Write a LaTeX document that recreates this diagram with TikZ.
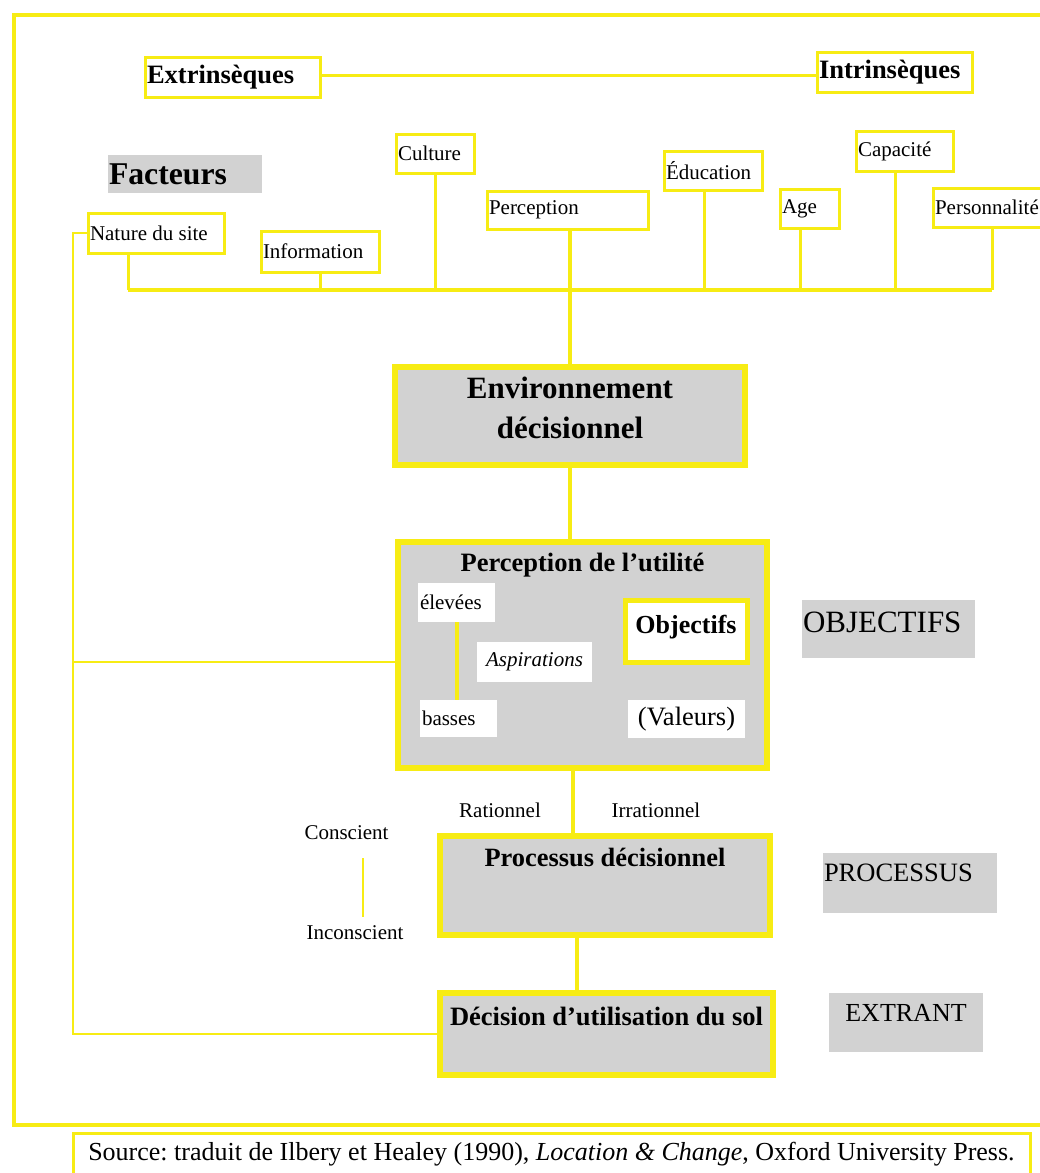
\documentclass[tikz,border=0pt]{standalone}
\usepackage{fontspec}
\setmainfont{Liberation Serif}
\definecolor{yel}{RGB}{247,236,20}
\definecolor{shade}{RGB}{210,210,210}
\newcommand{\setfs}[1]{\fontsize{#1}{#1}\selectfont\frenchspacing}
\tikzset{
  every node/.style={inner sep=0pt, outer sep=0pt},
  factor/.style={draw=yel, line width=3pt, fill=white, inner xsep=2pt, align=flush left, font=\setfs{21}},
  head/.style={draw=yel, line width=3pt, fill=white, inner xsep=2pt, align=flush left, font=\bfseries\setfs{26.5}},
  mainbox/.style={draw=yel, line width=6pt, fill=shade},
  graytag/.style={fill=shade, inner xsep=1pt, align=flush left},
  whitebox/.style={fill=white, inner xsep=2pt, font=\setfs{21}},
  plain/.style={font=\setfs{21}},
  bus/.style={draw=yel, line width=4.5pt},
  drop/.style={draw=yel, line width=3pt},
  trunk/.style={draw=yel, line width=4pt},
  side/.style={draw=yel, line width=2.5pt},
}
\begin{document}
\begin{tikzpicture}[x=1pt, y=-1pt]
\useasboundingbox (0,0) rectangle (1040,1173);

% outer frame
\draw[yel, line width=4pt] (14,15) rectangle (1050,1125);

% extrinsic / intrinsic headings
\node[head, text width=171pt, minimum height=40pt] (ext) at (232.5,77) {Extrinsèques};
\node[head, text width=151pt, minimum height=40pt] (int) at (894.5,72) {Intrinsèques};
\draw[drop] ([yshift=2pt]ext.east) -- ([yshift=-3pt]int.west);

\node[graytag, text width=152pt, minimum height=38pt, font=\bfseries\setfs{31.7}] (fact) at (185,174) {Facteurs};

% factors
\node[factor, text width=132pt, minimum height=40pt] (nature) at (156,233) {Nature du site};
\node[factor, text width=114pt, minimum height=41pt] (info) at (320,251.5) {Information};
\node[factor, text width=74pt, minimum height=39pt] (culture) at (435,153.5) {Culture};
\node[factor, text width=157pt, minimum height=38pt] (percep) at (567.5,210) {Perception};
\node[factor, text width=94pt, minimum height=39pt] (educ) at (713,170.5) {Éducation};
\node[factor, text width=55pt, minimum height=39pt] (age) at (809.5,208.5) {Age};
\node[factor, text width=93pt, minimum height=40pt] (capa) at (904.5,151) {Capacité};
\node[factor, text width=108pt, minimum height=39pt] (perso) at (989,207.5) {Personnalité};

% main chain
\node[mainbox, minimum width=350pt, minimum height=98pt] (env) at (570,416) {};
\node[align=center, font=\bfseries\fontsize{31}{40}\selectfont] (envt) at (570,408) {Environnement\\décisionnel};

\node[mainbox, minimum width=369pt, minimum height=226pt] (putil) at (582.5,655) {};
\node[font=\bfseries\setfs{26.5}] (putilt) at (582.5,565) {Perception de l’utilité};
\node[whitebox, text width=73pt, minimum height=39pt, align=flush left] (elev) at (456.5,602.5) {élevées};
\node[whitebox, text width=73pt, minimum height=37pt, align=flush left] (bass) at (458.5,718.5) {basses};
\node[whitebox, minimum width=115pt, minimum height=40pt, font=\itshape\setfs{21}] (asp) at (534.5,662) {Aspirations};
\node[draw=yel, line width=5pt, fill=white, minimum width=122pt, text height=33.5pt, text depth=28.5pt, font=\bfseries\setfs{26}] (obj) at (686,631) {Objectifs};
\node[whitebox, minimum width=117pt, minimum height=38pt, font=\setfs{26.5}] (val) at (686.5,719) {(Valeurs)};
\draw[trunk] (elev.south) -- (elev.south |- bass.north);

\node[mainbox, minimum width=330pt, text height=30pt, text depth=69pt, font=\bfseries\setfs{26.4}] (proc) at (605,885.5) {Processus décisionnel};
\node[mainbox, minimum width=333pt, text height=32pt, text depth=50pt, font=\bfseries\setfs{26.5}] (dec) at (606.5,1034) {Décision d’utilisation du sol};

% side tags
\node[graytag, text width=171pt, text height=32pt, text depth=26pt, font=\setfs{31}] (tobj) at (888.5,629) {OBJECTIFS};
\node[graytag, text width=172pt, text height=28pt, text depth=32pt, font=\setfs{26.5}] (tproc) at (910,883) {PROCESSUS};
\node[fill=shade, minimum width=154pt, text height=28pt, text depth=31pt, font=\setfs{26}] (text) at (906,1022.5) {EXTRANT};

% process labels
\node[plain] (rat) at (500,810) {Rationnel};
\node[plain] (irr) at (656,810) {Irrationnel};
\node[plain] (consc) at (346.5,833) {Conscient};
\node[plain] (inconsc) at (355,933) {Inconscient};
\coordinate (cl) at (363,0);
\draw[side, line width=2pt, shorten <=18pt, shorten >=9pt] (consc.south -| cl) -- (inconsc.north -| cl);

% factor bus
\coordinate (busL) at (128,290);
\coordinate (busR) at (992,290);
\draw[bus] (busL) -- (busR);
\draw[drop] (nature.south -| busL) -- (busL);
\draw[drop] (info.south) -- (info.south |- busL);
\draw[drop] (culture.south) -- (culture.south |- busL);
\draw[drop] ([xshift=-9pt]educ.south) -- ([xshift=-9pt]educ.south |- busL);
\draw[drop] ([xshift=-9.5pt]age.south) -- ([xshift=-9.5pt]age.south |- busL);
\draw[drop] ([xshift=-9.5pt]capa.south) -- ([xshift=-9.5pt]capa.south |- busL);
\draw[drop] (perso.south -| busR) -- (busR);

% vertical chain
\draw[trunk] (percep.south -| env.north) -- (env.north);
\draw[trunk] (env.south) -- (env.south |- putil.north);
\draw[trunk] ([xshift=-9.5pt]putil.south) -- ([xshift=-9.5pt]putil.south |- proc.north);
\draw[trunk] ([xshift=-28pt]proc.south) -- ([xshift=-28pt]proc.south |- dec.north);

% site feedback line on the left
\coordinate (lft) at (73,233);
\draw[side] (nature.west) -- (lft) -- (lft |- dec.west) -- (dec.west);
\draw[side] ([yshift=-7pt]putil.west) -- ([yshift=-7pt]putil.west -| lft);

% source
\node[draw=yel, line width=3pt, fill=white, minimum width=957pt, minimum height=42pt, font=\setfs{26}] (src) at (551.5,1154)
  {Source: traduit de Ilbery et Healey (1990), \textit{Location \& Change}, Oxford University Press.};
\end{tikzpicture}
\end{document}
